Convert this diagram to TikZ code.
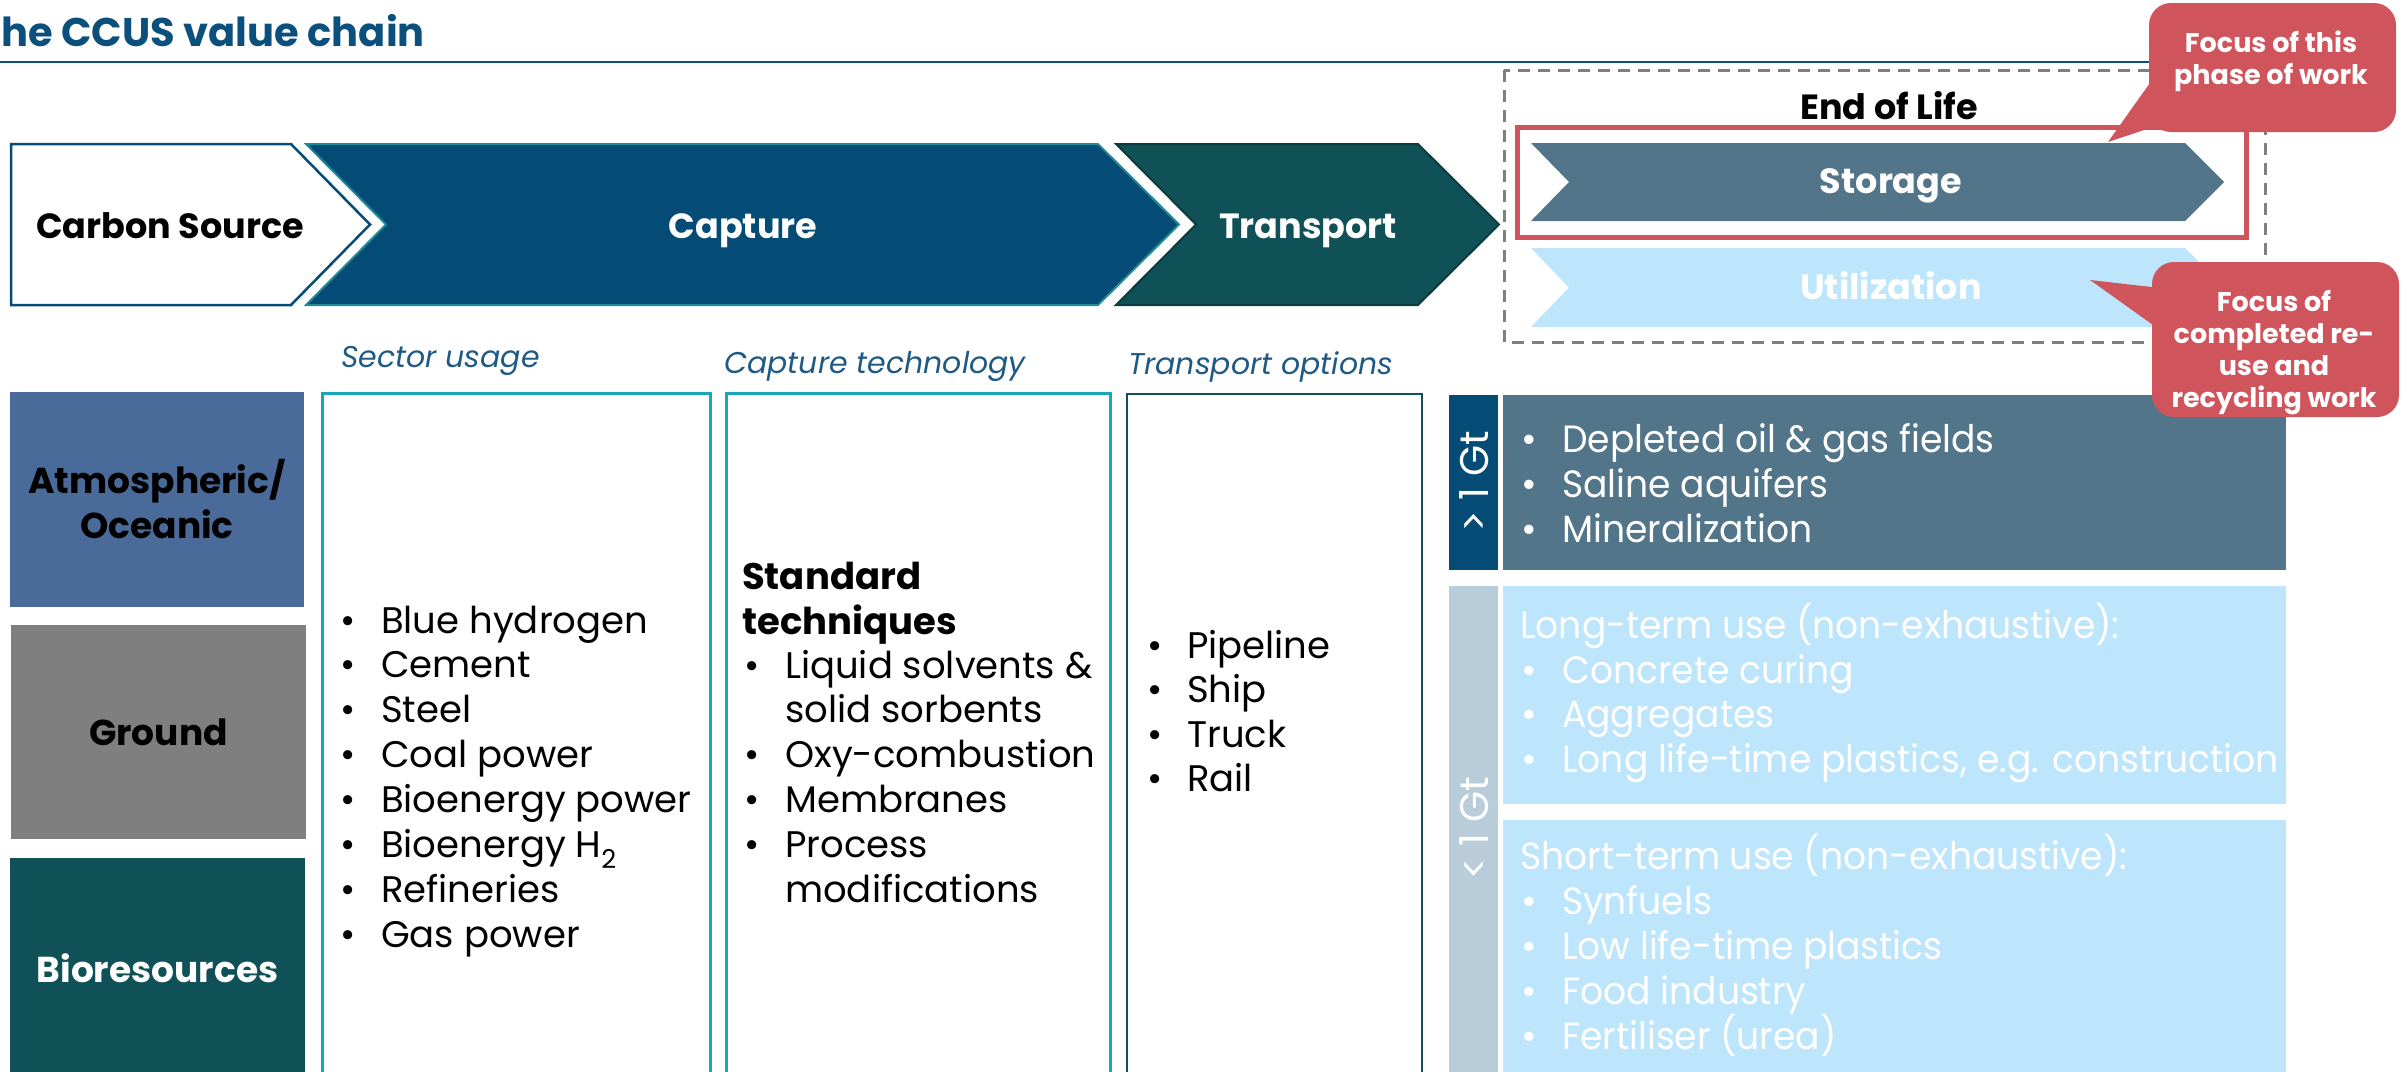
\documentclass[tikz,border=0pt]{standalone}
\usepackage{fontspec}
\setmainfont{Poppins}
\usepackage{graphicx}
\definecolor{cblue}{HTML}{044B75}
\definecolor{capbd}{HTML}{1B8C98}
\definecolor{tgreen}{HTML}{0F5156}
\definecolor{tgreenbd}{HTML}{0B3C40}
\definecolor{storc}{HTML}{527589}
\definecolor{utilc}{HTML}{BDE5FC}
\definecolor{ltbar}{HTML}{B8CCDA}
\definecolor{atmc}{HTML}{4A6A99}
\definecolor{grndc}{HTML}{7F7F7F}
\definecolor{redc}{HTML}{CF545C}
\definecolor{secbd}{HTML}{19A8B9}
\definecolor{lblc}{HTML}{1F5A85}
\definecolor{titleblue}{HTML}{0B4F7C}
\definecolor{dashc}{HTML}{7F7F7F}
\newcommand{\myitem}[1]{\makebox[41pt][l]{\textbullet}#1}
\newcommand{\mycont}[1]{\hspace*{41pt}#1}
\newcommand{\sq}[1]{\scalebox{0.95}[1]{#1}}
\tikzset{
  chevlbl/.style={anchor=base, inner sep=0, font=\bfseries\fontsize{35}{40}\selectfont},
  catbox/.style={inner sep=0, align=center, font=\bfseries\fontsize{36}{45}\selectfont},
  itemtxt/.style={anchor=base west, inner sep=0, font=\fontsize{37}{45}\selectfont},
  rightitem/.style={anchor=base west, inner sep=0, text=white, font=\fontsize{38}{45}\selectfont},
  collbl/.style={anchor=base west, inner sep=0, text=lblc, font=\itshape\fontsize{30}{36}\selectfont},
  callbox/.style={fill=redc, rounded corners=22pt, inner sep=0},
  calltxt/.style={inner sep=0, align=center, text=white, font=\bfseries\fontsize{27}{32}\selectfont},
  gtlbl/.style={rotate=90, inner sep=0, text=white, font=\fontsize{40}{44}\selectfont},
}
\begin{document}
\begin{tikzpicture}[x=1pt,y=-1pt]
\useasboundingbox (0,0) rectangle (2407,1071);
\clip (0,0) rectangle (2407,1071);
% title
\node[anchor=base east, inner sep=0, text=titleblue, font=\bfseries\fontsize{40}{46}\selectfont] (title) at (425,46) {he CCUS value chain};
\coordinate (tl0) at (0,62);
\coordinate (tl1) at (2170,62);
\draw[titleblue, line width=1.8] (tl0) -- (tl1);
% chevrons
\draw[fill=white, draw=cblue, line width=2.5] (11,144) -- (291,144) -- (370,224.5) -- (291,305) -- (11,305) -- cycle;
\draw[fill=cblue, draw=capbd, line width=2] (306,144) -- (1098,144) -- (1179,224.5) -- (1098,305) -- (306,305) -- (386,224.5) -- cycle;
\draw[fill=tgreen, draw=tgreenbd, line width=2] (1116,144) -- (1418,144) -- (1499,224.5) -- (1418,305) -- (1116,305) -- (1196,224.5) -- cycle;
\node[chevlbl] (csrc) at (170,238) {Carbon Source};
\node[chevlbl, text=white] (capt) at (743,238) {Capture};
\node[chevlbl, text=white] (trans) at (1308,238) {Transport};
% end of life
\draw[dashc, line width=3, dash pattern=on 12pt off 8pt] (1504,70) rectangle (2265,342);
\node[chevlbl] (eol) at (1889,119) {End of Life};
\draw[redc, line width=5] (1517,127) rectangle (2246,237);
\fill[storc] (1531,143) -- (2185,143) -- (2224,182) -- (2185,221) -- (1531,221) -- (1569,182) -- cycle;
\fill[utilc] (1531,248) -- (2185,248) -- (2224,287.5) -- (2185,327) -- (1531,327) -- (1569,287.5) -- cycle;
\node[chevlbl, text=white] (stor) at (1891,193) {Storage};
\node[chevlbl, text=white] (util) at (1891,299) {Utilization};
% left category boxes
\node[catbox, fill=atmc, minimum width=294, minimum height=215] (atm) at (157,499.5) {Atmospheric/\\Oceanic};
\node[catbox, fill=grndc, minimum width=295, minimum height=214] (grd) at (158.5,732) {Ground};
\node[catbox, fill=tgreen, text=white, minimum width=295, minimum height=220] (bio) at (157.5,968) {Bioresources};
% column boxes
\draw[secbd, line width=3] (322,393) rectangle (710,1090);
\draw[secbd, line width=3] (726,393) rectangle (1110,1090);
\draw[tgreen, line width=2.5] (1127,394) rectangle (1422,1090);
\node[collbl] (lsec) at (341,367) {Sector usage};
\node[collbl] (lcap) at (724,373) {Capture technology};
\node[collbl] (ltra) at (1128,374) {Transport options};
% sector items
\foreach \t [count=\i] in {Blue hydrogen, Cement, Steel, Coal power, Bioenergy power, {Bioenergy H\textsubscript{2}}, Refineries, Gas power}
  \node[itemtxt] (sec\i) at (340,{633+44.9*(\i-1)}) {\myitem{\t}};
% capture tech
\node[itemtxt, font=\bfseries\fontsize{37}{45}\selectfont] (std1) at (742,589) {Standard};
\node[itemtxt, font=\bfseries\fontsize{37}{45}\selectfont] (std2) at (742,634) {techniques};
\node[itemtxt] (ct1) at (744,678) {\myitem{Liquid solvents \&}};
\node[itemtxt] (ct2) at (744,722) {\mycont{solid sorbents}};
\node[itemtxt] (ct3) at (744,767) {\myitem{Oxy-combustion}};
\node[itemtxt] (ct4) at (744,812) {\myitem{Membranes}};
\node[itemtxt] (ct5) at (744,857) {\myitem{Process}};
\node[itemtxt] (ct6) at (744,902) {\mycont{modifications}};
% transport
\foreach \t [count=\i] in {Pipeline, Ship, Truck, Rail}
  \node[itemtxt] (tr\i) at (1147,{658+44.5*(\i-1)}) {\makebox[40pt][l]{\textbullet}\t};
% right panel
\fill[cblue] (1449,395) rectangle (1498,570);
\fill[storc] (1503,395) rectangle (2286,570);
\fill[ltbar] (1449,586) rectangle (1498,1090);
\fill[utilc] (1503,586) rectangle (2286,804);
\fill[utilc] (1503,820) rectangle (2286,1090);
\node[gtlbl] (gt1) at (1474,482) {> 1 Gt};
\node[gtlbl] (gt2) at (1474,828) {< 1 Gt};
\foreach \t [count=\i] in {Depleted oil \& gas fields, Saline aquifers, Mineralization}
  \node[rightitem] (st\i) at (1521,{452+45*(\i-1)}) {\myitem{\sq{\t}}};
\node[rightitem] (lth) at (1520,638) {\sq{Long-term use (non-exhaustive):}};
\foreach \t [count=\i] in {Concrete curing, Aggregates, {Long life-time plastics, e.g. construction}}
  \node[rightitem] (lt\i) at (1521,{683+44.5*(\i-1)}) {\myitem{\sq{\t}}};
\node[rightitem] (sth) at (1520,869) {\sq{Short-term use (non-exhaustive):}};
\foreach \t [count=\i] in {Synfuels, Low life-time plastics, Food industry, Fertiliser (urea)}
  \node[rightitem] (sh\i) at (1521,{914+45*(\i-1)}) {\myitem{\sq{\t}}};
% callouts
\node[callbox, minimum width=247, minimum height=129] (co1) at (2272.5,67.5) {};
\fill[redc] (2152,80) -- (2108,142) -- (2162,124) -- cycle;
\node[calltxt] (co1t) at (2271,61.5) {Focus of this\\phase of work};
\node[callbox, minimum width=247, minimum height=155] (co2) at (2275.5,339.5) {};
\fill[redc] (2160,288) -- (2090,280) -- (2160,330) -- cycle;
\node[calltxt] (co2t) at (2274,353) {Focus of\\completed re-\\use and\\recycling work};
\end{tikzpicture}
\end{document}
